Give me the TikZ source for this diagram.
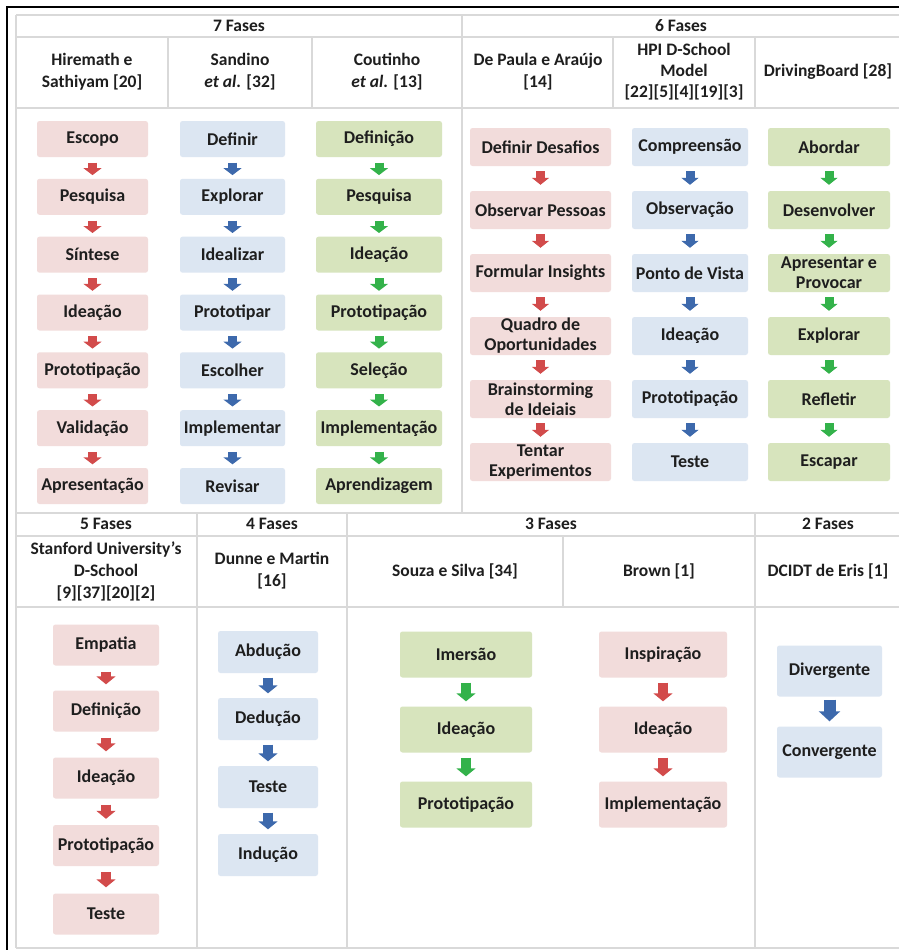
\documentclass[tikz,border=0pt]{standalone}
\usepackage{fontspec}
\setmainfont{Carlito}
\usetikzlibrary{arrows.meta}
\definecolor{pinkf}{HTML}{F2DCDB}
\definecolor{bluef}{HTML}{DCE6F2}
\definecolor{greenf}{HTML}{D7E4BD}
\definecolor{reda}{HTML}{D24B4B}
\definecolor{bluea}{HTML}{3D69AC}
\definecolor{greena}{HTML}{33B24A}
\definecolor{gridc}{HTML}{D9D9D9}
\definecolor{txt}{HTML}{1E1E1E}
\begin{document}
\begin{tikzpicture}[x=1pt,y=-1pt,
  every node/.style={text=txt,align=center,font=\bfseries\fontsize{18}{20}\selectfont},
  hd/.style={inner sep=0pt,font=\bfseries\fontsize{17.5}{22}\selectfont},
  bx/.style={rounded corners=2.5pt,inner sep=0pt},
  rb/.style={bx,fill=pinkf},
  bb/.style={bx,fill=bluef},
  gb/.style={bx,fill=greenf},
  grid/.style={draw=gridc,line width=1.6pt},
  frame/.style={draw=black,line width=1.3pt},
  tipa/.style={-{Triangle[width=18pt,length=7pt]},line width=9pt},
  tipb/.style={-{Triangle[width=17pt,length=7pt]},line width=9pt},
  tipc/.style={-{Triangle[width=19pt,length=8pt]},line width=10pt},
  tipd/.style={-{Triangle[width=21pt,length=10pt]},line width=12pt},
  ra/.style={draw=reda,#1},
  ba/.style={draw=bluea,#1},
  ga/.style={draw=greena,#1},
  s1/.style={shorten <=5.5pt,shorten >=3.5pt},
  s2/.style={shorten <=5pt,shorten >=6pt},
  s3/.style={shorten <=6pt,shorten >=6pt},
  s4/.style={shorten <=4.5pt,shorten >=4.5pt},
  s5/.style={shorten <=5pt,shorten >=5pt},
  s6/.style={shorten <=3pt,shorten >=5pt}]
\useasboundingbox[fill=white] (0,0) rectangle (899,950);
% frame
\draw[frame] (7,950) -- (7,7) -- (899,7);
% grid lines
\draw[grid] (16,15) -- (899,15);
\draw[grid] (16,37) -- (899,37);
\draw[grid] (16,108) -- (899,108);
\draw[grid] (16,513) -- (899,513);
\draw[grid] (16,536) -- (899,536);
\draw[grid] (16,607) -- (899,607);
\draw[grid] (16,948) -- (899,948);
\draw[grid] (16,15) -- (16,948);
\draw[grid] (462,15) -- (462,513);
\draw[grid] (168,37) -- (168,108);
\draw[grid] (312,37) -- (312,108);
\draw[grid] (613,37) -- (613,108);
\draw[grid] (755,37) -- (755,108);
\draw[grid] (197,513) -- (197,948);
\draw[grid] (347,513) -- (347,948);
\draw[grid] (755,513) -- (755,948);
\draw[grid] (563,536) -- (563,607);
% headers
\node[hd] (f7) at (239,26) {7 Fases};
\node[hd] (f6) at (681,26) {6 Fases};
\node[hd] (a1) at (92,72) {Hiremath e\\Sathiyam [20]};
\node[hd] (a2) at (240,72) {Sandino\\\textit{et al.} [32]};
\node[hd] (a3) at (387,72) {Coutinho\\\textit{et al.} [13]};
\node[hd] (a4) at (538,72) {De Paula e Araújo\\{[14]}};
\node[hd,font=\bfseries\fontsize{17.5}{21}\selectfont] (a5) at (684,72) {HPI D-School\\Model\\{[22][5][4][19][3]}};
\node[hd] (a6) at (828,72) {DrivingBoard [28]};
\node[hd] (f5) at (106,524) {5 Fases};
\node[hd] (f4) at (272,524) {4 Fases};
\node[hd] (f3) at (551,524) {3 Fases};
\node[hd] (f2) at (828,524) {2 Fases};
\node[hd] (b1) at (106,571) {Stanford University's\\D-School\\{[9][37][20][2]}};
\node[hd] (b2) at (272,571) {Dunne e Martin\\{[16]}};
\node[hd] (b3) at (455,571) {Souza e Silva [34]};
\node[hd] (b4) at (659,571) {Brown [1]};
\node[hd] (b5) at (828,571) {DCIDT de Eris [1]};
% Hiremath column
\begin{scope}[every node/.append style={minimum width=111,minimum height=36}]
\node[rb] (h1) at (92.5,139) {Escopo};
\node[rb] (h2) at (92.5,196.8) {Pesquisa};
\node[rb] (h3) at (92.5,254.7) {Síntese};
\node[rb] (h4) at (92.5,312.5) {Ideação};
\node[rb] (h5) at (92.5,370.3) {Prototipação};
\node[rb] (h6) at (92.5,428.2) {Validação};
\node[rb] (h7) at (92.5,486) {Apresentação};
\end{scope}
\begin{scope}[every node/.append style={minimum width=105,minimum height=36}]
\node[bb] (d1) at (232.5,139) {Definir};
\node[bb] (d2) at (232.5,196.8) {Explorar};
\node[bb] (d3) at (232.5,254.7) {Idealizar};
\node[bb] (d4) at (232.5,312.5) {Prototipar};
\node[bb] (d5) at (232.5,370.3) {Escolher};
\node[bb] (d6) at (232.5,428.2) {Implementar};
\node[bb] (d7) at (232.5,486) {Revisar};
\end{scope}
\begin{scope}[every node/.append style={minimum width=126,minimum height=36}]
\node[gb] (c1) at (379,139) {Definição};
\node[gb] (c2) at (379,196.8) {Pesquisa};
\node[gb] (c3) at (379,254.7) {Ideação};
\node[gb] (c4) at (379,312.5) {Prototipação};
\node[gb] (c5) at (379,370.3) {Seleção};
\node[gb] (c6) at (379,428.2) {Implementação};
\node[gb] (c7) at (379,486) {Aprendizagem};
\end{scope}
\foreach \i/\j in {1/2,2/3,3/4,4/5,5/6,6/7}{
  \draw[ra={tipa},s1] (h\i) -- (h\j);
  \draw[ba={tipa},s1] (d\i) -- (d\j);
  \draw[ga={tipa},s1] (c\i) -- (c\j);
}
% top right
\begin{scope}[every node/.append style={minimum width=141,minimum height=38}]
\node[rb] (p1) at (540.5,147) {Definir Desafios};
\node[rb] (p2) at (540.5,210) {Observar Pessoas};
\node[rb] (p3) at (540.5,273) {Formular Insights};
\node[rb] (p4) at (540.5,336) {Quadro de\\Oportunidades};
\node[rb] (p5) at (540.5,399) {Brainstorming\\de Ideiais};
\node[rb] (p6) at (540.5,462) {Tentar\\Experimentos};
\end{scope}
\begin{scope}[every node/.append style={minimum width=116,minimum height=38}]
\node[bb] (q1) at (690,147) {Compreensão};
\node[bb] (q2) at (690,210) {Observação};
\node[bb] (q3) at (690,273) {Ponto de Vista};
\node[bb] (q4) at (690,336) {Ideação};
\node[bb] (q5) at (690,399) {Prototipação};
\node[bb] (q6) at (690,462) {Teste};
\end{scope}
\begin{scope}[every node/.append style={minimum width=122,minimum height=38}]
\node[gb] (r1) at (829,147) {Abordar};
\node[gb] (r2) at (829,210) {Desenvolver};
\node[gb] (r3) at (829,273) {Apresentar e\\Provocar};
\node[gb] (r4) at (829,336) {Explorar};
\node[gb] (r5) at (829,399) {Refletir};
\node[gb] (r6) at (829,462) {Escapar};
\end{scope}
\foreach \i/\j in {1/2,2/3,3/4,4/5,5/6}{
  \draw[ra={tipb},s2] (p\i) -- (p\j);
  \draw[ba={tipb},s2] (q\i) -- (q\j);
  \draw[ga={tipb},s2] (r\i) -- (r\j);
}
% Stanford
\begin{scope}[every node/.append style={minimum width=106,minimum height=41}]
\node[rb] (st1) at (106,645) {Empatia};
\node[rb] (st2) at (106,711) {Definição};
\node[rb] (st3) at (106,778) {Ideação};
\node[rb] (st4) at (106,845.5) {Prototipação};
\node[rb] (st5) at (106,914) {Teste};
\end{scope}
\foreach \i/\j in {1/2,2/3,3/4,4/5}{\draw[ra={tipc},s3] (st\i) -- (st\j);}
% Dunne
\begin{scope}[every node/.append style={minimum width=100,minimum height=42}]
\node[bb] (dm1) at (268,652) {Abdução};
\node[bb] (dm2) at (268,719) {Dedução};
\node[bb] (dm3) at (268,787) {Teste};
\node[bb] (dm4) at (268,855) {Indução};
\end{scope}
\foreach \i/\j in {1/2,2/3,3/4}{\draw[ba={tipc},s4] (dm\i) -- (dm\j);}
% Souza
\begin{scope}[every node/.append style={minimum width=132,minimum height=46}]
\node[gb] (so1) at (466,654.5) {Imersão};
\node[gb] (so2) at (466,729.5) {Ideação};
\node[gb] (so3) at (466,804.5) {Prototipação};
\end{scope}
\begin{scope}[every node/.append style={minimum width=128,minimum height=46}]
\node[rb] (br1) at (663,654.5) {Inspiração};
\node[rb] (br2) at (663,729.5) {Ideação};
\node[rb] (br3) at (663,804.5) {Implementação};
\end{scope}
\foreach \i/\j in {1/2,2/3}{
  \draw[ga={tipc},s5] (so\i) -- (so\j);
  \draw[ra={tipc},s5] (br\i) -- (br\j);
}
% DCIDT
\begin{scope}[every node/.append style={minimum width=105,minimum height=51}]
\node[bb] (dc1) at (829.5,671) {Divergente};
\node[bb] (dc2) at (829.5,752) {Convergente};
\end{scope}
\draw[ba={tipd},s6] (dc1) -- (dc2);
\end{tikzpicture}
\end{document}
